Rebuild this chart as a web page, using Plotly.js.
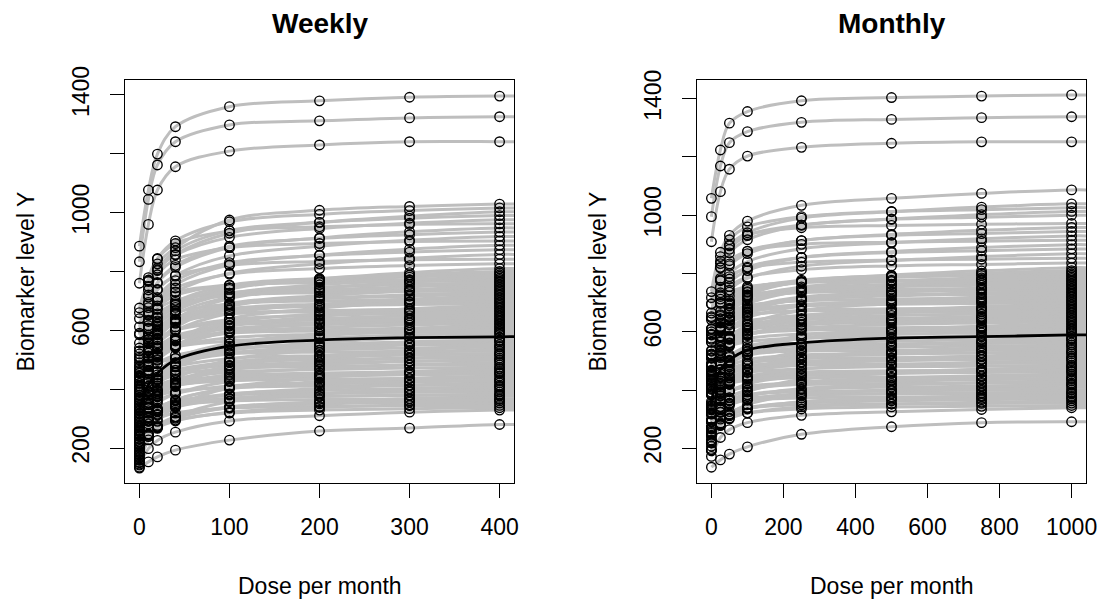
<!DOCTYPE html>
<html>
<head>
<meta charset="utf-8">
<script src="https://cdn.plot.ly/plotly-3.0.1.min.js"></script>
<style>html,body{margin:0;padding:0;background:#fff;}#chart{width:1099px;height:600px;}</style>
</head>
<body>
<div id="chart"></div>
<script>
// ---------- data ----------
const panelTitles = ['Weekly', 'Monthly'];
const xTitle = 'Dose per month';
const yTitle = 'Biomarker level Y';

const weeklyDoses = [0, 10, 20, 40, 100, 200, 300, 400];
const monthlyDoses = [0, 25, 50, 100, 250, 500, 750, 1000];
// dose at the right edge of each panel, where the curves run out of the frame
const weeklyEdgeDose = 416;
const monthlyEdgeDose = 1040;

// one row per subject, values at weeklyDoses
const weeklyLevels = [
  [886,1077,1199,1292,1360,1380,1392,1396],
  [833,1045,1162,1241,1298,1312,1322,1326],
  [760,960,1077,1156,1209,1230,1241,1241],
  [142,198,226,254,292,310,322,329],
  [176,248,273,295,319,329,334,337],
  [160,271,299,319,336,341,344,345],
  [200,246,269,292,322,338,347,353],
  [152,246,277,306,337,350,356,360],
  [135,239,273,305,340,354,360,365],
  [214,306,330,346,360,365,367,368],
  [188,244,273,301,338,357,368,376],
  [158,291,325,349,369,376,379,380],
  [232,300,323,344,366,375,380,383],
  [170,303,336,360,380,387,390,391],
  [246,292,315,338,368,384,393,399],
  [205,295,326,354,384,396,402,406],
  [150,228,267,306,358,384,400,410],
  [262,353,376,393,406,411,413,414],
  [222,282,312,342,382,402,414,422],
  [180,292,329,364,402,417,424,429],
  [255,334,360,385,411,421,427,430],
  [275,372,397,414,429,434,436,437],
  [240,302,332,363,404,425,437,445],
  [300,368,391,412,435,444,449,452],
  [165,339,383,414,441,449,454,455],
  [195,354,394,423,447,455,459,460],
  [258,321,353,384,426,447,460,468],
  [145,243,291,340,405,438,457,470],
  [318,389,412,434,458,467,472,475],
  [230,382,420,448,470,478,482,483],
  [285,347,378,409,450,470,483,491],
  [340,411,435,457,481,490,495,498],
  [185,327,374,418,465,484,494,500],
  [212,388,433,465,491,500,505,506],
  [305,368,399,430,472,493,506,514],
  [205,394,441,476,504,514,518,520],
  [268,382,420,455,493,508,516,521],
  [360,461,487,505,521,526,528,529],
  [248,335,378,421,479,508,525,537],
  [330,426,458,488,520,533,540,544],
  [220,318,366,415,480,513,532,545],
  [290,447,487,515,539,547,551,552],
  [380,434,461,488,524,542,553,560],
  [240,338,386,435,500,533,552,565],
  [272,405,449,490,535,552,561,567],
  [350,485,519,544,564,571,574,575],
  [310,393,434,476,531,558,575,586],
  [260,409,459,505,555,574,584,591],
  [398,488,517,545,575,587,593,597],
  [380,513,547,571,591,598,601,602],
  [325,495,537,568,594,602,607,608],
  [280,380,430,480,546,580,600,613],
  [295,392,441,489,554,587,606,619],
  [335,465,508,549,592,610,618,624],
  [410,509,542,573,606,619,626,630],
  [250,481,539,581,616,627,633,635],
  [345,523,567,600,626,635,640,641],
  [405,477,513,550,598,622,636,646],
  [372,456,498,540,596,624,641,652],
  [300,461,514,564,618,639,650,657],
  [428,534,569,602,637,651,658,663],
  [440,577,611,636,657,663,667,668],
  [318,532,585,624,656,667,672,674],
  [355,452,501,549,614,647,666,679],
  [390,479,523,567,626,656,673,685],
  [290,530,590,634,670,682,688,690],
  [445,558,596,631,668,683,691,696],
  [460,568,605,638,674,689,696,701],
  [362,569,621,659,690,700,705,707],
  [345,455,510,565,639,675,697,712],
  [420,509,554,599,658,688,706,718],
  [395,543,592,638,687,707,716,723],
  [335,512,571,627,686,709,721,729],
  [420,608,656,690,718,728,732,734],
  [465,630,671,702,726,735,739,740],
  [475,556,597,637,691,718,734,745],
  [400,505,558,611,681,716,737,751],
  [365,541,600,654,713,736,748,756],
  [438,584,632,678,726,746,756,762],
  [505,662,702,730,754,762,766,767],
  [380,616,675,718,753,765,771,773],
  [430,534,587,639,708,743,764,778],
  [490,578,622,666,725,755,772,784],
  [390,570,629,685,745,769,781,789],
  [412,584,642,695,753,776,787,795],
  [520,604,646,688,744,772,789,800],
  [455,562,615,668,739,775,796,810],
  [510,652,700,744,791,810,820,826],
  [430,677,739,784,821,834,840,842],
  [540,635,683,731,794,826,845,858],
  [470,652,712,769,830,854,866,874],
  [557,657,706,756,823,856,876,889],
  [445,720,789,840,881,895,902,904],
  [590,689,738,787,853,886,906,919],
  [500,695,760,821,886,912,925,934],
  [612,713,763,814,881,914,935,948],
  [480,769,842,895,938,952,960,962],
  [676,766,811,856,916,946,964,976],
  [530,737,806,870,939,967,981,990],
  [640,749,803,858,930,967,988,1003],
  [585,779,844,904,969,994,1007,1016],
  [660,771,826,881,975,1008,1021,1029],
  [132,153,170,193,227,258,268,280]
];

// one row per subject, values at monthlyDoses
const monthlyLevels = [
  [1058,1224,1316,1356,1393,1404,1409,1413],
  [995,1169,1249,1287,1319,1329,1335,1338],
  [909,1081,1158,1203,1233,1247,1252,1252],
  [172,237,264,288,313,325,333,339],
  [219,282,304,321,335,342,344,347],
  [228,300,326,339,349,352,354,355],
  [224,278,301,321,342,352,358,363],
  [207,287,316,337,355,363,367,370],
  [195,284,315,339,358,368,371,375],
  [271,332,353,365,373,376,377,378],
  [218,283,311,335,360,372,380,386],
  [239,325,355,371,383,387,388,390],
  [272,332,353,369,382,388,391,393],
  [251,336,366,383,394,398,399,401],
  [270,324,347,367,388,398,404,409],
  [258,336,363,384,401,410,413,416],
  [191,280,317,350,385,401,412,420],
  [319,379,400,411,419,422,423,424],
  [254,323,352,377,405,417,426,432],
  [245,341,374,400,421,431,435,439],
  [301,370,394,412,427,434,437,440],
  [335,399,421,433,442,444,446,447],
  [272,343,373,399,427,440,449,455],
  [341,400,422,438,451,457,460,462],
  [270,381,420,441,456,461,463,465],
  [291,393,429,448,462,466,468,470],
  [291,364,394,421,449,463,471,478],
  [195,306,353,393,436,457,470,480],
  [360,422,443,460,473,480,482,485],
  [322,419,454,472,485,489,491,493],
  [317,389,419,445,473,486,495,501],
  [382,444,466,483,496,503,505,508],
  [266,387,429,461,487,500,505,510],
  [318,431,470,492,507,511,514,516],
  [338,410,441,467,496,509,517,524],
  [319,439,481,504,520,525,528,530],
  [334,431,465,492,513,523,527,531],
  [423,489,512,525,534,536,538,539],
  [293,392,433,469,508,526,538,547],
  [386,469,498,520,538,547,551,554],
  [270,381,428,468,511,532,545,555],
  [385,486,521,540,554,558,560,562],
  [409,471,498,521,545,557,564,570],
  [290,401,448,488,531,552,565,575],
  [348,461,501,531,556,568,572,577],
  [432,519,550,566,578,581,583,585],
  [353,447,487,522,559,576,587,596],
  [345,471,516,550,577,591,596,601],
  [450,528,555,576,592,601,604,607],
  [461,547,577,593,605,609,610,612],
  [428,536,574,595,609,614,616,618],
  [331,445,493,534,578,599,613,623],
  [345,455,502,542,586,606,619,629],
  [410,520,559,589,613,625,630,634],
  [468,553,583,606,624,633,637,640],
  [388,534,586,613,633,639,642,645],
  [452,565,605,627,642,646,649,651],
  [443,525,561,591,623,638,648,656],
  [416,511,552,587,624,642,653,662],
  [392,528,575,612,641,656,661,667],
  [489,580,612,636,656,666,669,673],
  [523,611,642,659,671,674,676,678],
  [446,582,629,655,673,679,681,684],
  [405,515,562,602,646,666,679,689],
  [436,536,579,616,655,674,686,695],
  [434,585,639,667,688,694,697,700],
  [510,607,641,667,688,698,702,706],
  [523,616,648,673,693,703,707,711],
  [486,618,664,689,706,712,715,717],
  [402,526,579,624,673,696,711,722],
  [466,568,611,648,688,706,719,728],
  [480,605,649,682,709,723,728,733],
  [436,585,638,678,711,727,733,739],
  [533,653,695,718,734,739,742,744],
  [565,670,707,727,741,746,748,750],
  [517,609,649,682,719,735,747,755],
  [454,573,624,667,714,736,750,761],
  [465,614,666,706,738,754,760,766],
  [522,645,689,722,749,762,767,772],
  [600,701,736,755,769,773,775,777],
  [521,670,723,751,771,777,780,783],
  [484,602,652,695,741,763,777,788],
  [536,636,678,715,754,773,785,794],
  [492,644,697,738,770,787,793,799],
  [510,656,707,746,777,793,799,805],
  [564,659,700,735,772,790,801,810],
  [510,630,681,725,773,794,809,820],
  [592,712,755,787,813,826,831,836],
  [578,734,789,818,839,846,849,852],
  [589,697,743,783,825,845,858,868],
  [574,727,781,822,855,872,878,884],
  [608,721,769,810,855,875,889,899],
  [609,783,844,876,900,907,911,914],
  [641,753,800,841,885,905,919,929],
  [611,775,833,877,913,931,937,944],
  [664,778,827,868,913,934,948,958],
  [652,834,898,933,957,965,969,972],
  [738,873,931,980,1034,1058,1075,1087],
  [648,821,883,930,967,986,993,1000],
  [696,819,871,916,965,987,1002,1013],
  [695,858,916,960,995,1013,1019,1026],
  [717,842,895,940,990,1012,1028,1039],
  [135,160,180,205,248,274,288,291]
];

// typical (population) curve
const weeklyMeanDoses = [0, 10, 20, 40, 100, 200, 300, 400, 416];
const weeklyMean = [330, 415, 454, 499, 546, 567, 575, 578, 579];
const monthlyMeanDoses = [0, 25, 50, 100, 250, 500, 750, 1000, 1040];
const monthlyMean = [360, 470, 503, 537, 562, 578, 583, 589, 589];

// axes
const yTickVals = [200, 400, 600, 800, 1000, 1200, 1400];
const yTickText = ['200', '', '600', '', '1000', '', '1400'];
const weeklyXTicks = [0, 100, 200, 300, 400];
const monthlyXTicks = [0, 200, 400, 600, 800, 1000];

// ---------- build ----------
const FONT = 'Liberation Sans, Arial, sans-serif';
const GREY = '#bebebe';

function curveTrace(doses, rows, edgeDose, xa, ya) {
  const x = [], y = [];
  rows.forEach(r => {
    doses.forEach((d, i) => { x.push(d); y.push(r[i]); });
    x.push(edgeDose); y.push(r[r.length - 1]); // curve runs on to the frame
    x.push(null); y.push(null);
  });
  return {type: 'scatter', mode: 'lines', x, y, xaxis: xa, yaxis: ya,
    line: {color: GREY, width: 3, shape: 'spline', smoothing: 1},
    connectgaps: false, hoverinfo: 'skip', showlegend: false};
}
function pointTrace(doses, rows, xa, ya) {
  const x = [], y = [];
  rows.forEach(r => doses.forEach((d, i) => { x.push(d); y.push(r[i]); }));
  return {type: 'scatter', mode: 'markers', x, y, xaxis: xa, yaxis: ya,
    marker: {symbol: 'circle-open', size: 9.5, color: '#000', line: {width: 1.35}},
    hoverinfo: 'skip', showlegend: false};
}
function meanTrace(x, y, xa, ya) {
  return {type: 'scatter', mode: 'lines', x, y, xaxis: xa, yaxis: ya,
    line: {color: '#000', width: 2.8, shape: 'spline', smoothing: 1},
    hoverinfo: 'skip', showlegend: false};
}

const traces = [
  curveTrace(weeklyDoses, weeklyLevels, weeklyEdgeDose, 'x', 'y'),
  curveTrace(monthlyDoses, monthlyLevels, monthlyEdgeDose, 'x2', 'y2'),
  meanTrace(weeklyMeanDoses, weeklyMean, 'x', 'y'),
  meanTrace(monthlyMeanDoses, monthlyMean, 'x2', 'y2'),
  pointTrace(weeklyDoses, weeklyLevels, 'x', 'y'),
  pointTrace(monthlyDoses, monthlyLevels, 'x2', 'y2')
];

const W = 1099, H = 600;
const box = {top: 80, bottom: 483};
const xdom1 = [125 / W, 514 / W];
const xdom2 = [697 / W, 1086 / W];
const ydom = [1 - box.bottom / H, 1 - box.top / H];

function xAxis(dom, range, ticks, anchor) {
  return {domain: dom, range, anchor, tickvals: ticks, ticktext: ticks.map(String),
    ticks: 'outside', ticklen: 14, tickwidth: 1, tickcolor: '#000',
    showline: true, mirror: true, linecolor: '#000', linewidth: 1,
    showgrid: false, zeroline: false, ticklabelstandoff: 9,
    tickfont: {family: FONT, size: 23, color: '#000'}};
}
function yAxis(range, anchor) {
  return {domain: ydom, range, anchor, tickvals: yTickVals, ticktext: yTickText,
    tickangle: -90, ticks: 'outside', ticklen: 14, tickwidth: 1, tickcolor: '#000',
    showline: true, mirror: true, linecolor: '#000', linewidth: 1,
    showgrid: false, zeroline: false, ticklabelstandoff: 12,
    tickfont: {family: FONT, size: 23, color: '#000'}};
}

const cx1 = (xdom1[0] + xdom1[1]) / 2, cx2 = (xdom2[0] + xdom2[1]) / 2;
const cy = (ydom[0] + ydom[1]) / 2;
const ann = [];
[cx1, cx2].forEach((cx, i) => {
  ann.push({text: '<b>' + panelTitles[i] + '</b>', x: cx, y: 1 - 23 / H, xref: 'paper', yref: 'paper',
    xanchor: 'center', yanchor: 'middle', showarrow: false, font: {family: FONT, size: 28, color: '#000'}});
  ann.push({text: xTitle, x: cx, y: 1 - 586 / H, xref: 'paper', yref: 'paper',
    xanchor: 'center', yanchor: 'middle', showarrow: false, font: {family: FONT, size: 23, color: '#000'}});
});
[25 / W, 597 / W].forEach(x => {
  ann.push({text: yTitle, x, y: cy, xref: 'paper', yref: 'paper', textangle: -90,
    xanchor: 'center', yanchor: 'middle', showarrow: false, font: {family: FONT, size: 23, color: '#000'}});
});

const layout = {
  width: W, height: H, margin: {l: 0, r: 0, t: 0, b: 0},
  paper_bgcolor: '#fff', plot_bgcolor: '#fff', showlegend: false,
  xaxis: xAxis(xdom1, [-16, 416], weeklyXTicks, 'y'),
  yaxis: yAxis([81.3, 1450.7], 'x'),
  xaxis2: xAxis(xdom2, [-40, 1040], monthlyXTicks, 'y2'),
  yaxis2: yAxis([80.8, 1464.2], 'x2'),
  annotations: ann
};

Plotly.newPlot('chart', traces, layout, {staticPlot: true, displayModeBar: false});
</script>
</body>
</html>
